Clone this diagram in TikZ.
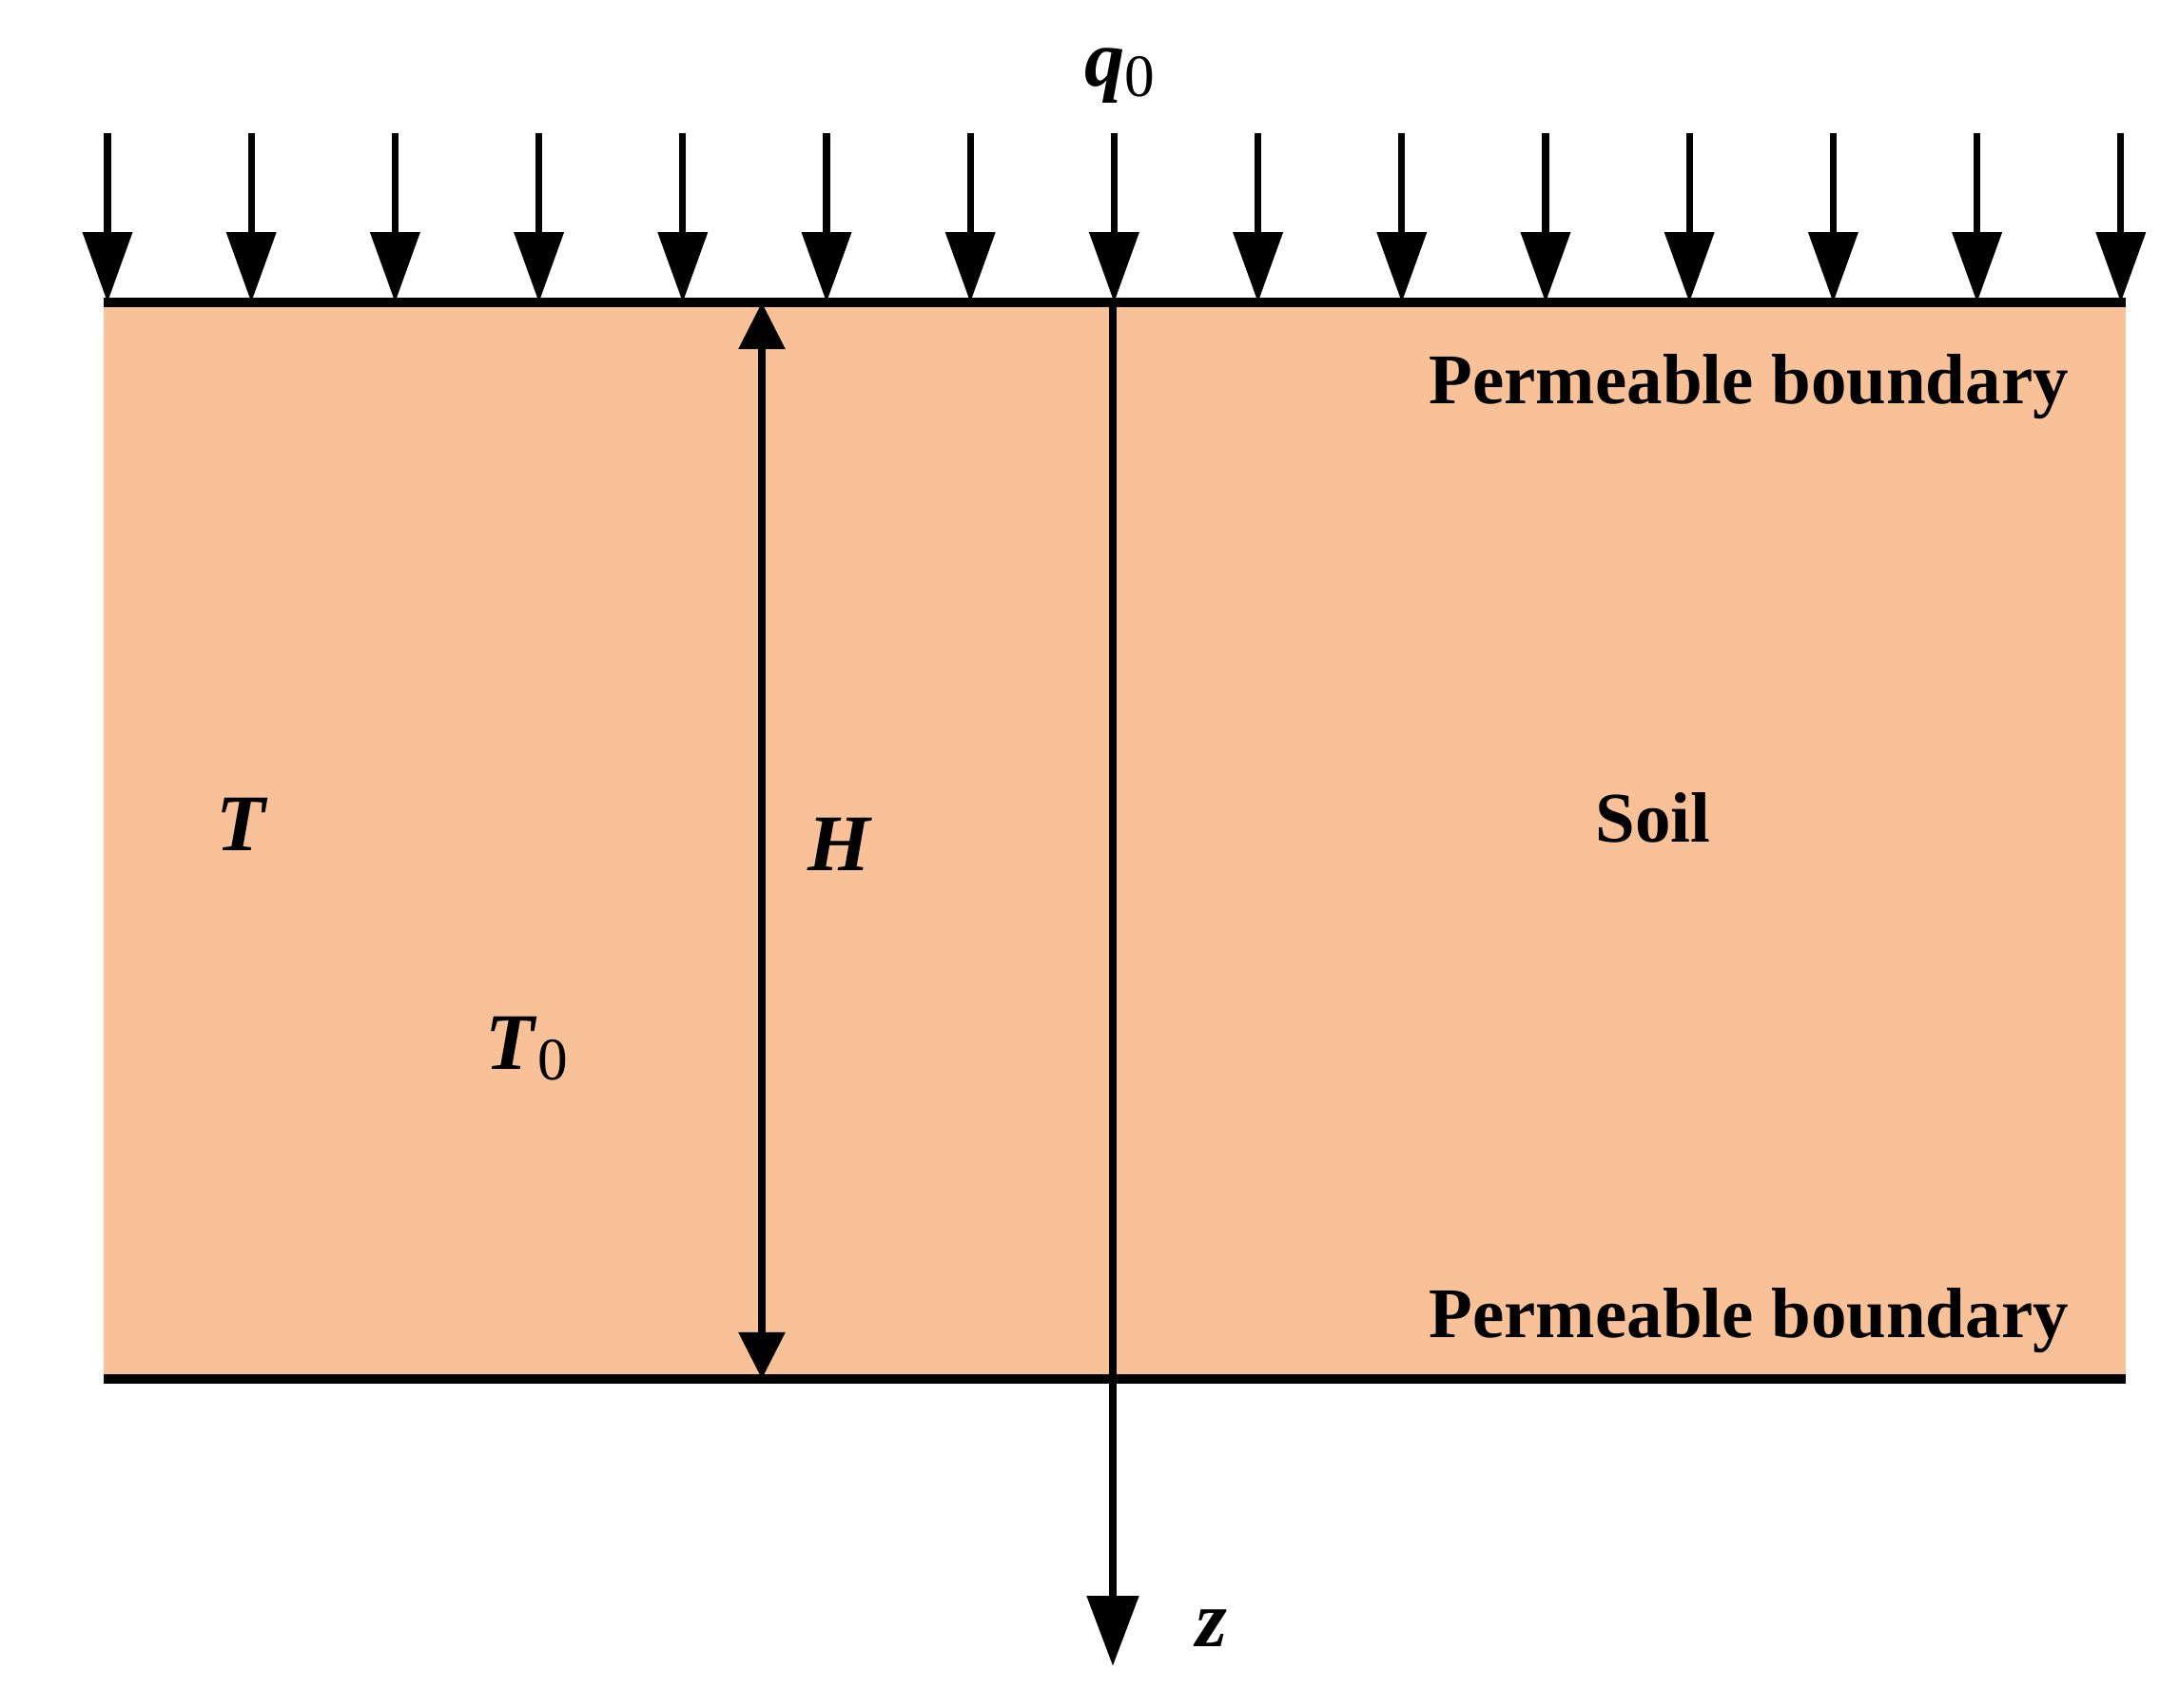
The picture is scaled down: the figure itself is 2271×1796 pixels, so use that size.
\documentclass[tikz,border=0pt]{standalone}
\usepackage{fontspec}
\setmainfont{Liberation Serif}
\usetikzlibrary{arrows.meta}
\definecolor{soilfill}{RGB}{248,193,151}
\newcommand{\symb}[1]{\textbf{\textit{#1}}}
\newcommand{\subz}{\raisebox{-0.3ex}{\fontsize{18}{18}\selectfont 0}}
\tikzset{
  load/.style={line width=2pt,-{Triangle[length=21pt,width=14.5pt]}},
  bound/.style={line width=2.6pt},
  lab/.style={font=\fontsize{21.3}{24}\selectfont\bfseries,inner sep=0pt,anchor=base west},
  sym/.style={font=\fontsize{24}{26}\selectfont,inner sep=0pt,anchor=base west}
}
\begin{document}
\begin{tikzpicture}[x=0.01cm,y=-0.01cm]
	\useasboundingbox (0,0) rectangle (2271,1796);
	\fill[soilfill] (109,318) rectangle (2235,1450);
	% surface load q0
	\foreach \k in {0,...,14}{
		\coordinate (top\k) at ({113+151.2*\k},140);
		\coordinate (base\k) at ({113+151.2*\k},318);
		\draw[load] (top\k) -- (base\k);
	}
	\coordinate (tl) at (109,318);
	\coordinate (tr) at (2235,318);
	\coordinate (bl) at (109,1450);
	\coordinate (br) at (2235,1450);
	\draw[bound] (tl) -- (tr);
	\draw[bound] (bl) -- (br);
	% depth axis
	\coordinate (zo) at (1170,318);
	\coordinate (zend) at (1170,1752);
	\draw[line width=2.5pt,-{Triangle[length=21pt,width=15pt]}] (zo) -- (zend);
	% thickness H
	\coordinate (htop) at (801,318);
	\coordinate (hbot) at (801,1450);
	\draw[line width=2.3pt,{Triangle[length=14pt,width=13.5pt]}-{Triangle[length=14pt,width=13.5pt]}] (htop) -- (hbot);
	\node[sym] (q) at (1140,90) {\symb{q}\subz};
	\node[lab] (pbtop) at (1502,424) {Permeable boundary};
	\node[lab] (pbbot) at (1502,1406) {Permeable boundary};
	\node[lab] (soil) at (1677,885) {Soil};
	\node[sym] (t) at (227,894) {\symb{T}};
	\node[sym] (h) at (849,915) {\symb{H}};
	\node[sym] (t0) at (510,1124) {\symb{T}\subz};
	\node[sym] (z) at (1257,1731) {\symb{z}};
\end{tikzpicture}
\end{document}
